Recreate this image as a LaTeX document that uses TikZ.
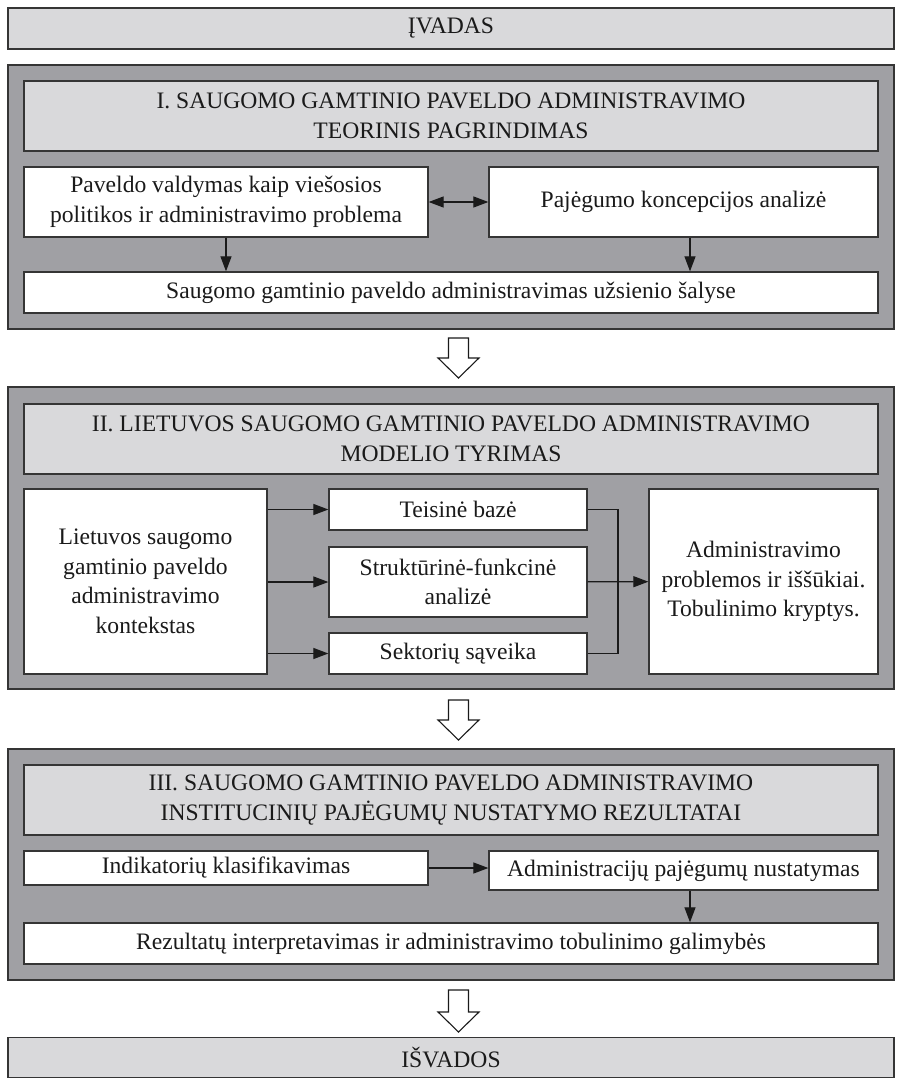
\documentclass[tikz,border=0pt]{standalone}
\usepackage{fontspec}
\setmainfont{Liberation Serif}
\usetikzlibrary{arrows.meta}
\definecolor{panelgray}{HTML}{A0A0A4}
\definecolor{headgray}{HTML}{D9D9DB}
\definecolor{edgegray}{HTML}{353535}
\definecolor{inkgray}{HTML}{1A1A1A}

\begin{document}
\begin{tikzpicture}[x=1pt,y=-1pt,
  txt/.style={align=center, inner sep=0pt, text=inkgray,
    font=\fontsize{23.6}{29.5}\selectfont},
  panel/.style={draw=edgegray, fill=panelgray, line width=1.3pt, inner sep=0pt},
  headbox/.style={txt, draw=edgegray, fill=headgray, line width=1.3pt},
  whitebox/.style={txt, draw=edgegray, fill=white, line width=1.3pt},
  line/.style={draw=inkgray, line width=1.2pt},
  link/.style={line, -{Triangle[length=15pt,width=11pt]}},
  biglink/.style={line, {Triangle[length=15pt,width=11pt]}-{Triangle[length=15pt,width=11pt]}},
  hollow/.style={draw=inkgray, fill=white, line width=1.1pt, line join=miter},
  pics/hollowdown/.style={code={
    \draw[hollow] (-10,0) -- (10,0) -- (10,#1) -- (20.5,#1) -- (0,#1+20)
      -- (-20.5,#1) -- (-10,#1) -- cycle;}},
  pics/hollowdown/.default=20
]
\useasboundingbox (0,0) rectangle (903,1078);

% introduction
\node[headbox, minimum width=886pt, minimum height=41pt] (intro) at (451,28.5) {ĮVADAS};

% part I
\node[panel, minimum width=886pt, minimum height=264pt] (secI) at (451,197) {};
\node[headbox, minimum width=854pt, minimum height=70pt] (hdrI) at (451,116)
  {I. SAUGOMO GAMTINIO PAVELDO ADMINISTRAVIMO\\TEORINIS PAGRINDIMAS};
\node[whitebox, minimum width=404pt, minimum height=70pt] (gov) at (226,202)
  {Paveldo valdymas kaip viešosios\\politikos ir administravimo problema};
\node[whitebox, minimum width=389pt, minimum height=70pt] (cap) at (683.5,202)
  {Pajėgumo koncepcijos analizė};
\node[whitebox, minimum width=854pt, minimum height=41pt] (abroad) at (451,292.5)
  {Saugomo gamtinio paveldo administravimas užsienio šalyse};
\draw[biglink] (gov) -- (cap);
\draw[link] (gov.south) -- (gov.south |- abroad.north);
\draw[link] ([xshift=6.5pt]cap.south) -- ([xshift=6.5pt]cap.south |- abroad.north);

\pic at (458.5,338) {hollowdown};

% part II
\node[panel, minimum width=886pt, minimum height=302pt] (secII) at (451,538) {};
\node[headbox, minimum width=854pt, minimum height=70pt] (hdrII) at (451,439)
  {II. LIETUVOS SAUGOMO GAMTINIO PAVELDO ADMINISTRAVIMO\\MODELIO TYRIMAS};
\node[whitebox, minimum width=243pt, minimum height=185pt] (ctx) at (145.5,581.5)
  {Lietuvos saugomo\\gamtinio paveldo\\administravimo\\kontekstas};
\node[whitebox, minimum width=258pt, minimum height=41pt] (law) at (458,509.5)
  {Teisinė bazė};
\node[whitebox, minimum width=258pt, minimum height=70pt] (struct) at (458,582)
  {Struktūrinė-funkcinė\\analizė};
\node[whitebox, minimum width=258pt, minimum height=41pt] (sect) at (458,653.5)
  {Sektorių sąveika};
\node[whitebox, minimum width=229pt, minimum height=185pt] (probl) at (763.5,581.5)
  {Administravimo\\problemos ir iššūkiai.\\Tobulinimo kryptys.};
\draw[link] (ctx.east |- law) -- (law);
\draw[link] (ctx.east |- struct) -- (struct);
\draw[link] (ctx.east |- sect) -- (sect);
\coordinate (merge) at (618,582);
\draw[line] (law.east) -| (merge) |- (sect.east);
\draw[link] (struct) -- (probl);

\pic at (458.5,700) {hollowdown};

% part III
\node[panel, minimum width=886pt, minimum height=231pt] (secIII) at (451,864.5) {};
\node[headbox, minimum width=854pt, minimum height=70pt] (hdrIII) at (451,800)
  {III. SAUGOMO GAMTINIO PAVELDO ADMINISTRAVIMO\\INSTITUCINIŲ PAJĖGUMŲ NUSTATYMO REZULTATAI};
\node[whitebox, minimum width=404pt, minimum height=34pt] (ind) at (226,868)
  {Indikatorių klasifikavimas};
\node[whitebox, minimum width=389pt, minimum height=39pt] (adm) at (683.5,870.5)
  {Administracijų pajėgumų nustatymas};
\node[whitebox, minimum width=854pt, minimum height=41pt] (res) at (451,943.5)
  {Rezultatų interpretavimas ir administravimo tobulinimo galimybės};
\draw[link] (ind.east) -- (ind.east -| adm.west);
\draw[link] ([xshift=6.5pt]adm.south) -- ([xshift=6.5pt]adm.south |- res.north);

\pic at (458.5,990) {hollowdown=22};

% conclusions
\node[headbox, minimum width=886pt, minimum height=40pt] (concl) at (451,1057.5) {IŠVADOS};
\end{tikzpicture}
\end{document}
